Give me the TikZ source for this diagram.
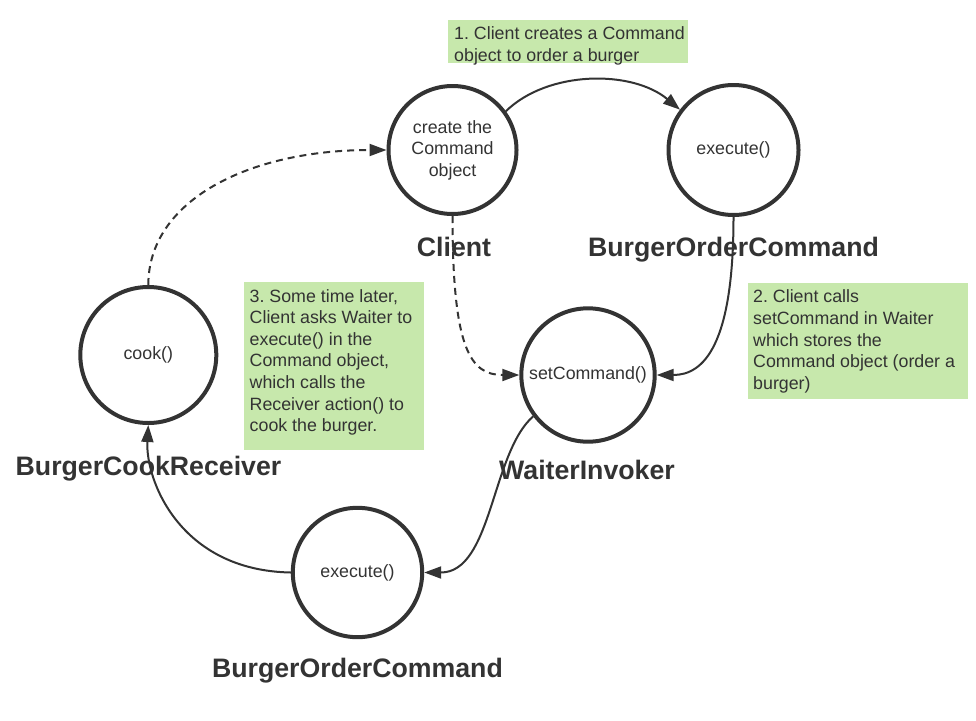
\documentclass[tikz,border=0pt]{standalone}
\usepackage{fontspec}
\setmainfont{Liberation Sans}
\usetikzlibrary{arrows.meta}
\definecolor{ink}{HTML}{333333}
\definecolor{note}{RGB}{199,232,172}
\frenchspacing
\begin{document}
\begin{tikzpicture}[x=1pt,y=-1pt,
  state/.style={circle,draw=ink,line width=4pt,inner sep=0pt,text=ink,
    font=\fontsize{17.8}{21.6}\selectfont,align=center},
  lbl/.style={anchor=base,inner sep=0pt,text=ink,
    font=\fontsize{26.7}{32}\selectfont\bfseries},
  notebox/.style={fill=note,draw=none,anchor=north west,inner sep=0pt},
  notetext/.style={anchor=north west,inner sep=0pt,align=left,text=ink,
    font=\fontsize{17.8}{21.6}\selectfont\frenchspacing},
  conn/.style={draw=ink,line width=2pt,-{Triangle[length=17pt,width=12pt]}},
  dsh/.style={dash pattern=on 7pt off 5pt}
]
\useasboundingbox (0,0) rectangle (976,720);

% note boxes
\node[notebox,minimum width=240pt,minimum height=43pt] (n1) at (448,20) {};
\node[notebox,minimum width=220pt,minimum height=116pt] (n2) at (747.5,282.5) {};
\node[notebox,minimum width=180pt,minimum height=168pt] (n3) at (244,282) {};
\node[notetext] (t1) at (454,26.5) {1. Client creates a Command\\object to order a burger};
\node[notetext] (t2) at (753,289.7) {2. Client calls\\setCommand in Waiter\\which stores the\\Command object (order a\\burger)};
\node[notetext] (t3) at (249.5,289) {3. Some time later,\\Client asks Waiter to\\execute() in the\\Command object,\\which calls the\\Receiver action() to\\cook the burger.};

% states
\node[state,minimum size=128pt] (cl) at (452.5,150) {create the\\Command\\object};
\node[state,minimum size=130pt] (bo1) at (733.5,150) {execute()};
\node[state,minimum size=133.4pt] (sc) at (588,375) {setCommand()};
\node[state,minimum size=136pt] (ck) at (148.3,355) {cook()};
\node[state,minimum size=129.4pt] (bo2) at (357.5,572.5) {execute()};

% labels
\node[lbl] (lcl) at (454,256) {Client};
\node[lbl] (lbo1) at (733.5,256) {BurgerOrderCommand};
\node[lbl] (lsc) at (587,479) {WaiterInvoker};
\node[lbl] (lck) at (148.5,475) {BurgerCookReceiver};
\node[lbl] (lbo2) at (357.5,677.3) {BurgerOrderCommand};

% connectors
\draw[conn] (cl.36) .. controls +(42,-41) and +(-48,-40) .. (bo1.143);
\draw[conn] (bo1.south) .. controls +(0,128) and +(47,0) .. (sc.east);
\draw[conn,dsh] (cl.south) .. controls +(0,133) and +(-49,0) .. (sc.west);
\draw[conn] (sc.217) .. controls +(-42,37) and +(68,0) .. (bo2.east);
\draw[conn] (bo2.west) .. controls +(-111,-2) and +(-3,55) .. (ck.south);
\draw[conn,dsh] (ck.north) .. controls +(0,-85) and +(-137,0) .. (cl.west);
\end{tikzpicture}
\end{document}
